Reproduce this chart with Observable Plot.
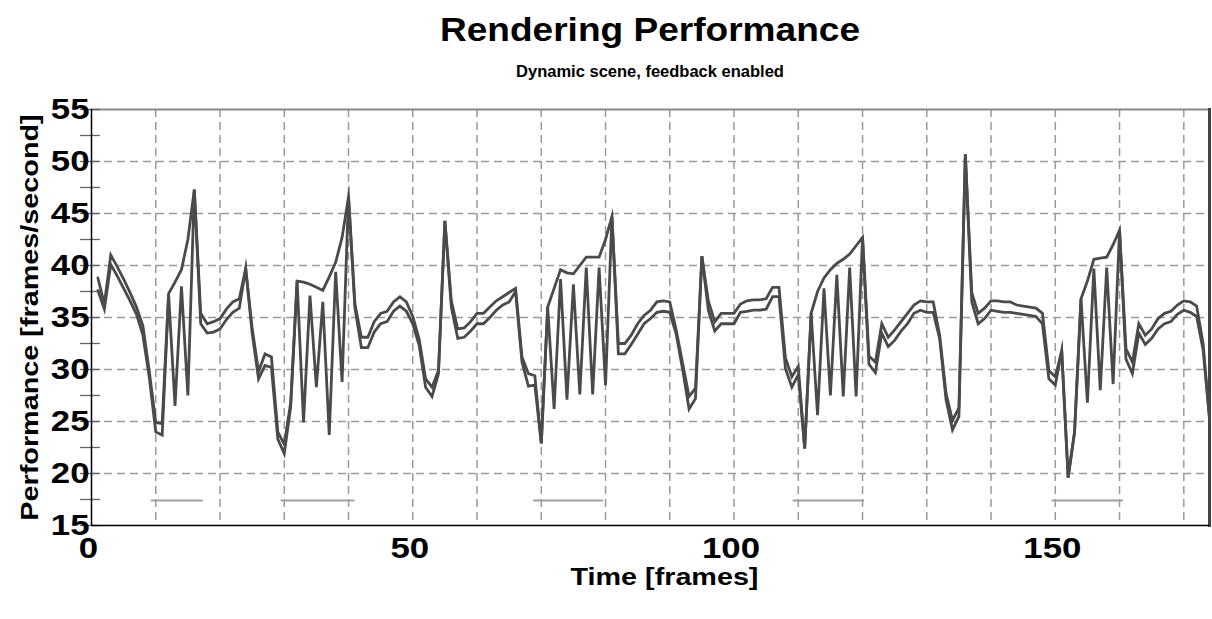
<!DOCTYPE html>
<html><head><meta charset="utf-8">
<script src="https://cdn.jsdelivr.net/npm/d3@7"></script>
<script src="https://cdn.jsdelivr.net/npm/@observablehq/plot@0.6"></script>
<style>
body{margin:0;background:#fff;font-family:"Liberation Sans",Arial,sans-serif;}
#head{position:relative;width:1212px;height:90px;}
#head div{position:absolute;left:91px;width:1118px;text-align:center;font-weight:bold;color:#000;white-space:nowrap;}
#t1{top:10px;font-size:34px;transform:scaleX(1.09);}
#t2{top:62px;font-size:16.5px;}
</style></head><body>
<div id="head"><div id="t1">Rendering Performance</div><div id="t2">Dynamic scene, feedback enabled</div></div>
<div id="chart"></div>
<script>
// frames per second, series A (upper trace) and B (lower trace), frames 1..174
const seriesA = [38.8,36.3,41.0,39.9,38.7,37.4,36.0,34.2,29.8,24.9,24.8,37.3,38.4,39.6,42.5,47.3,35.4,34.4,34.6,34.9,35.8,36.5,36.8,39.7,34.0,29.8,31.5,31.2,24.0,22.8,26.8,38.5,38.4,38.2,37.9,37.6,38.9,40.3,42.7,46.6,36.3,33.1,33.1,34.6,35.4,35.6,36.5,37.0,36.5,35.1,32.9,29.1,28.3,29.9,44.3,36.6,33.9,34.0,34.6,35.4,35.4,36.0,36.6,37.0,37.4,37.8,31.2,29.6,29.4,22.9,36.0,37.8,39.6,39.3,39.2,40.0,40.8,40.8,40.8,42.5,44.7,32.5,32.5,33.3,34.4,35.2,35.7,36.5,36.6,36.5,33.8,30.6,27.4,28.2,40.9,36.6,34.6,35.4,35.4,35.4,36.3,36.6,36.7,36.7,36.8,37.9,37.9,31.1,29.3,30.3,22.4,35.4,37.5,38.8,39.6,40.2,40.6,41.1,41.9,42.7,31.3,30.7,34.4,33.1,33.8,34.6,35.4,36.2,36.6,36.5,36.5,33.3,27.7,25.1,26.3,50.7,37.4,35.4,35.9,36.6,36.6,36.5,36.5,36.2,36.1,36.0,35.9,35.4,29.9,29.3,31.8,19.6,24.0,36.8,38.5,40.6,40.7,40.8,42.0,43.4,32.0,30.7,34.4,33.3,33.9,34.9,35.4,35.6,36.2,36.6,36.5,36.1,32.5,25.3];
const seriesB = [37.6,35.8,40.1,39.0,37.8,36.6,35.3,33.3,29.2,24.0,23.7,37.2,26.5,38.0,27.5,47.3,34.4,33.5,33.6,33.9,34.8,35.5,35.9,39.7,33.5,29.1,30.4,30.2,23.3,21.9,26.4,38.5,24.9,37.1,28.3,36.5,23.7,39.4,28.8,46.6,35.9,32.1,32.1,33.6,34.4,34.6,35.6,36.1,35.6,34.4,32.3,28.3,27.4,29.6,44.3,36.0,33.0,33.1,33.7,34.4,34.4,35.0,35.7,36.2,36.5,37.5,30.7,28.4,28.5,22.9,36.0,26.2,38.7,27.1,38.2,27.6,39.8,27.6,39.8,28.5,44.7,31.5,31.5,32.4,33.4,34.4,34.9,35.5,35.6,35.5,33.4,30.0,26.2,27.2,40.9,35.7,33.7,34.4,34.4,34.4,35.5,35.6,35.7,35.7,35.8,37.0,37.0,30.1,28.3,29.5,22.4,35.4,25.6,37.8,27.5,39.1,27.4,39.8,27.4,42.7,30.5,29.7,33.5,32.2,32.8,33.7,34.4,35.4,35.7,35.5,35.5,33.0,27.1,24.2,25.5,50.7,36.5,34.4,34.9,35.7,35.6,35.5,35.5,35.4,35.3,35.2,35.1,34.4,29.1,28.5,31.8,19.6,24.0,36.8,26.8,39.7,28.0,39.8,28.6,43.4,31.0,29.6,33.5,32.4,33.0,33.9,34.4,34.6,35.3,35.7,35.5,35.1,31.9,25.3];
// feedback periods (frame start / end) marked near the bottom
const periodStart = [9.3, 29.5, 68.8, 109.2, 149.5];
const periodEnd   = [17.4, 41.0, 79.7, 120.3, 160.6];
const periodLevel = 17.4;
const yTicks = [15,20,25,30,35,40,45,50,55];
const yMinor = [15,17.5,20,22.5,25,27.5,30,32.5,35,37.5,40,42.5,45,47.5,50,52.5,55];
const yGrid = [20,25,30,35,40,45,50];
const xTicks = [0,50,100,150];
const xGrid = [10,20,30,40,50,60,70,80,90,100,110,120,130,140,150,160,170];

const rows = [];
seriesA.forEach((v,i)=>rows.push({frame:i+1, fps:v, s:"A"}));
seriesB.forEach((v,i)=>rows.push({frame:i+1, fps:v, s:"B"}));
const periods = periodStart.map((s,i)=>({x1:s, x2:periodEnd[i], y:periodLevel}));

const chart = Plot.plot({
  width:1212, height:529,
  marginTop:19, marginLeft:91, marginRight:3, marginBottom:94,
  style:{fontFamily:"Liberation Sans, Arial, sans-serif", fontWeight:"bold", color:"#000", background:"#fff", overflow:"visible"},
  x:{domain:[0,174]},
  y:{domain:[15,55]},
  marks:[
    Plot.gridY(yGrid,{stroke:"#9a9a9a", strokeOpacity:1, strokeWidth:1.5, strokeDasharray:"8,5"}),
    Plot.gridX(xGrid,{stroke:"#9a9a9a", strokeOpacity:1, strokeWidth:1.5, strokeDasharray:"8,5"}),
    Plot.frame({anchor:"top", stroke:"#888", strokeWidth:2}),
    Plot.frame({anchor:"right", stroke:"#444", strokeWidth:3}),
    Plot.axisY({ticks:yMinor, tickSize:20, dx:9, fill:"none", label:null, stroke:"#666", strokeWidth:1.3}),
    Plot.axisY({ticks:yTicks, tickSize:0, tickPadding:2, fontSize:29, label:null, className:"ylab"}),
    Plot.axisX({ticks:xTicks, tickSize:0, tickPadding:12, dx:-3, fontSize:29, label:null, className:"xlab"}),
    Plot.ruleX([0],{stroke:"#000", strokeWidth:1.5}),
    Plot.ruleY([15],{stroke:"#000", strokeWidth:1.5}),
    Plot.ruleY(periods,{x1:"x1", x2:"x2", y:"y", stroke:"#a0a0a0", strokeWidth:2}),
    Plot.line(rows,{x:"frame", y:"fps", z:"s", stroke:"#4a4a4a", strokeWidth:2.8, strokeLinejoin:"miter", strokeMiterlimit:10}),
    Plot.text(["Performance [frames/second]"],{frameAnchor:"left", textAnchor:"middle", dx:-61, rotate:-90, fontSize:24, fontWeight:"bold", fill:"#000", className:"ttly"}),
    Plot.text(["Time [frames]"],{frameAnchor:"bottom", dy:59, dx:14, fontSize:23, fontWeight:"bold", fill:"#000", className:"ttl"})
  ]
});
document.getElementById("chart").appendChild(chart);

// horizontal stretch of text glyphs, as in the reference rendering
function stretch(sel, s){
  sel.each(function(){
    const t = this.getAttribute("transform");
    if (t) { this.setAttribute("transform", t + ` scale(${s},1)`); }
    else {
      const x = +this.getAttribute("x") || 0, y = +this.getAttribute("y") || 0;
      this.setAttribute("transform", `translate(${x},${y}) scale(${s},1) translate(${-x},${-y})`);
    }
  });
}
stretch(d3.select(chart).selectAll(".ylab text, .xlab text"), 1.2);
stretch(d3.select(chart).selectAll(".ttl text"), 1.25);
stretch(d3.select(chart).selectAll(".ttly text"), 1.2);
</script>
</body></html>
